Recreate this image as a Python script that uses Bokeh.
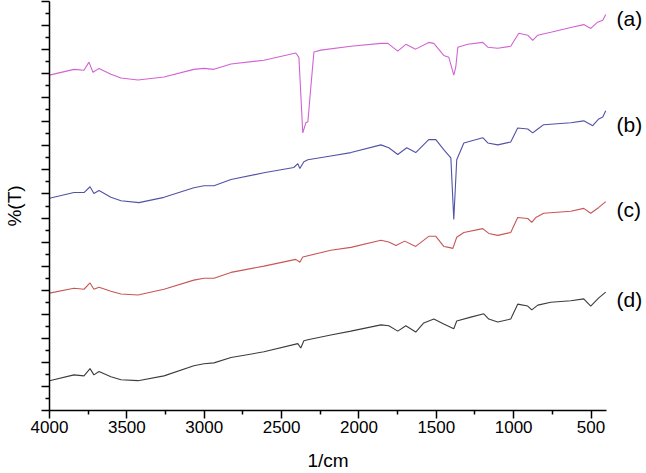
from bokeh.plotting import figure
from bokeh.models import Range1d, FixedTicker, LinearAxis, CustomJSTickFormatter
from bokeh.embed import file_html
from bokeh.resources import INLINE

# ---- data (wavenumber in cm^-1, %T offset-stacked) ----
a_x = [4000, 3842, 3777, 3745, 3719, 3680, 3603, 3538, 3428, 3260, 3067, 3002, 2937, 2827,
       2614, 2408, 2388, 2363, 2343, 2330, 2311, 2291, 2246, 2052, 1858, 1813, 1749, 1697,
       1633, 1549, 1516, 1452, 1419, 1387, 1374, 1361, 1297, 1200, 1167, 1103, 1019, 967,
       909, 877, 844, 760, 631, 547, 502, 457, 424, 405]
a_y = [69.7, 70.9, 70.7, 72.4, 70.3, 71.1, 69.9, 69.1, 68.7, 69.3, 70.9, 71.1, 70.9, 72.0,
       72.8, 74.3, 73.4, 57.7, 59.8, 60.0, 67.2, 74.5, 74.9, 75.7, 76.3, 76.3, 74.7, 76.1,
       75.1, 76.5, 76.3, 73.8, 73.4, 69.7, 71.4, 75.5, 76.1, 76.5, 75.5, 75.3, 75.7, 78.4,
       78.0, 76.9, 78.0, 78.6, 79.6, 80.2, 79.4, 80.7, 81.1, 82.3]

b_x = [4000, 3842, 3777, 3738, 3713, 3680, 3603, 3538, 3422, 3260, 3067, 3002, 2937, 2827,
       2614, 2421, 2395, 2382, 2356, 2330, 2182, 2052, 1858, 1807, 1749, 1691, 1633, 1549,
       1503, 1452, 1406, 1387, 1368, 1322, 1200, 1167, 1103, 1019, 974, 909, 877, 844, 806,
       631, 547, 489, 450, 424, 405]
b_y = [44.1, 45.3, 45.3, 46.5, 45.1, 45.7, 44.3, 43.6, 43.2, 44.3, 46.3, 46.7, 46.7, 48.0,
       49.4, 50.5, 51.3, 50.3, 51.7, 52.1, 52.9, 53.6, 55.2, 54.6, 53.2, 54.6, 53.6, 56.3,
       56.3, 54.2, 52.5, 39.7, 52.1, 55.6, 56.7, 55.6, 55.2, 55.8, 58.7, 58.5, 57.7, 58.5, 59.4,
       59.8, 60.2, 59.2, 60.6, 61.0, 62.3]

c_x = [4000, 3842, 3777, 3738, 3713, 3680, 3603, 3538, 3428, 3260, 3067, 3002, 2937, 2827,
       2614, 2408, 2382, 2363, 2182, 2052, 1858, 1807, 1761, 1704, 1633, 1549, 1503, 1452,
       1419, 1393, 1368, 1322, 1200, 1161, 1103, 1019, 974, 909, 883, 857, 806, 631, 547,
       502, 450, 405]
c_y = [24.4, 25.4, 25.2, 26.5, 25.2, 25.6, 24.8, 24.2, 24.0, 25.2, 27.1, 27.5, 27.5, 28.7,
       30.0, 31.4, 30.8, 31.9, 33.3, 33.9, 35.4, 35.0, 34.3, 35.2, 34.1, 36.2, 36.2, 34.1,
       33.9, 33.7, 36.0, 37.0, 37.8, 36.8, 36.4, 37.0, 40.1, 39.9, 39.1, 40.1, 41.0, 41.4, 42.0,
       41.0, 42.2, 43.4]

d_x = [4000, 3842, 3777, 3738, 3713, 3680, 3603, 3538, 3428, 3260, 3067, 3002, 2937, 2827,
       2614, 2395, 2376, 2356, 2330, 2182, 2052, 1858, 1807, 1749, 1697, 1633, 1581, 1516,
       1452, 1387, 1368, 1277, 1193, 1161, 1103, 1019, 974, 909, 883, 844, 760, 631, 547,
       502, 450, 405]
d_y = [6.2, 7.4, 7.2, 8.7, 7.4, 8.1, 7.0, 6.4, 6.2, 7.2, 9.3, 9.7, 9.9, 11.0,
       12.2, 13.9, 13.0, 14.5, 14.7, 15.7, 16.5, 17.8, 17.6, 16.5, 17.6, 16.3, 18.2, 19.0,
       18.0, 17.0, 18.6, 19.4, 20.1, 19.0, 18.4, 19.0, 22.1, 21.7, 20.9, 21.9, 22.5, 22.8, 23.2,
       21.7, 23.4, 24.6]

series_names = ["(a)", "(b)", "(c)", "(d)"]
label_y = [81.5, 59.4, 41.8, 23.0]
x_ticks = [4000, 3500, 3000, 2500, 2000, 1500, 1000, 500]
x_minor = [3750, 3250, 2750, 2250, 1750, 1250, 750]
y_ticks = [i * 5 for i in range(18)]
y_minor = [i * 5 + 2.5 for i in range(17)]

colors = ["#d263d2", "#5252a6", "#c85656", "#3c3c3c"]
FONT = "Liberation Sans"

p = figure(width=646, height=473, output_backend="svg", toolbar_location=None,
           x_range=Range1d(4000, 400), y_range=Range1d(0, 85),
           min_border_left=48, min_border_right=40, min_border_top=1,
           min_border_bottom=61)
p.outline_line_color = None
p.xgrid.grid_line_color = None
p.ygrid.grid_line_color = None
p.background_fill_color = "white"
p.border_fill_color = "white"

for xs, ys, c in zip([a_x, b_x, c_x, d_x], [a_y, b_y, c_y, d_y], colors):
    p.line(xs, ys, line_color=c, line_width=1.1)

# x axis
xa = p.xaxis[0]
xa.ticker = FixedTicker(ticks=x_ticks, minor_ticks=x_minor)
xa.axis_line_width = 1.5
xa.axis_line_color = "black"
xa.major_tick_line_width = 1.5
xa.minor_tick_line_width = 1.5
xa.major_tick_out = 8
xa.major_tick_in = 0
xa.minor_tick_out = 4
xa.minor_tick_in = 0
xa.major_label_text_font = FONT
xa.major_label_text_font_size = "17px"
xa.major_label_text_color = "black"
xa.major_label_standoff = 2
xa.axis_label = "1/cm"
xa.axis_label_text_font = FONT
xa.axis_label_text_font_size = "19px"
xa.axis_label_text_font_style = "normal"
xa.axis_label_text_color = "black"
xa.axis_label_standoff = 14

# y axis (ticks only, no numbers)
ya = p.yaxis[0]
ya.ticker = FixedTicker(ticks=y_ticks, minor_ticks=y_minor)
ya.formatter = CustomJSTickFormatter(code="return ''")
ya.axis_line_width = 1.5
ya.axis_line_color = "black"
ya.major_tick_line_width = 1.5
ya.minor_tick_line_width = 1.5
ya.major_tick_out = 8
ya.major_tick_in = 0
ya.minor_tick_out = 4
ya.minor_tick_in = 0
ya.major_label_text_font_size = "1px"
ya.major_label_standoff = 0
ya.axis_label = "%(T)"
ya.axis_label_text_font = FONT
ya.axis_label_text_font_size = "19px"
ya.axis_label_text_font_style = "normal"
ya.axis_label_text_color = "black"
ya.axis_label_standoff = 17

# right axis used for the series labels
ra = LinearAxis(ticker=FixedTicker(ticks=label_y, minor_ticks=[]),
                major_label_overrides={v: n for v, n in zip(label_y, series_names)})
ra.axis_line_color = None
ra.major_tick_line_color = None
ra.minor_tick_line_color = None
ra.major_tick_out = 0
ra.major_tick_in = 0
ra.major_label_standoff = 10
ra.major_label_text_font = FONT
ra.major_label_text_font_size = "21px"
ra.major_label_text_color = "black"
p.add_layout(ra, "right")

open("out.html", "w").write(file_html(p, INLINE))
